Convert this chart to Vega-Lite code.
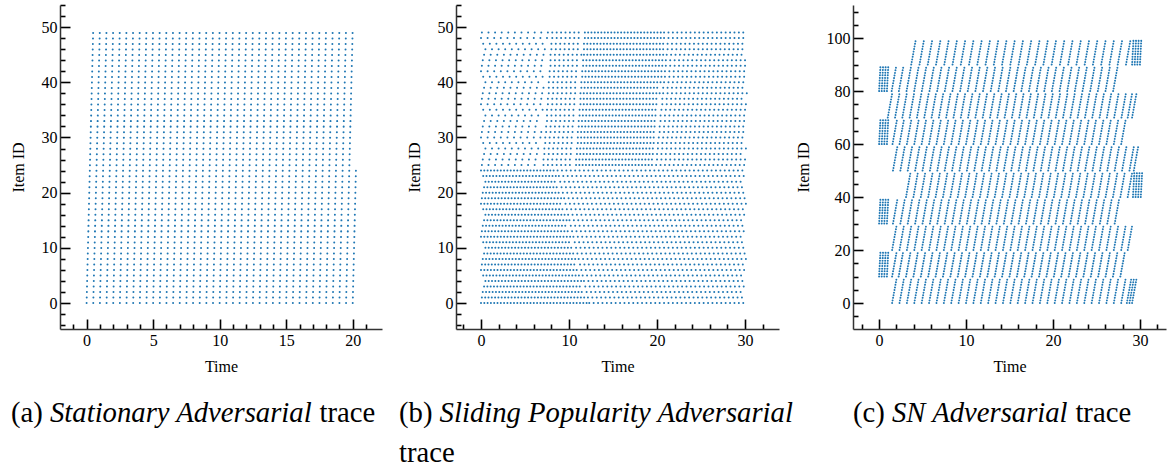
{
  "$schema": "https://vega.github.io/schema/vega-lite/v6.json",
  "padding": {"left": 10, "top": -3, "right": 2, "bottom": 2},
  "spacing": 74,
  "bounds": "flush",
  "config": {
    "view": {"stroke": null},
    "axis": {
      "grid": false,
      "labelFont": "Liberation Serif", "labelFontSize": 16, "labelColor": "#000",
      "titleFont": "Liberation Serif", "titleFontSize": 16, "titleFontWeight": "normal", "titleColor": "#000",
      "domainColor": "#333", "domainWidth": 1.5,
      "tickColor": "#000", "tickWidth": 1.6,
      "labelOverlap": false, "labelFlush": false, "labelBound": false,
      "labelPadding": 13
    },
    "axisX": {"titlePadding": 5},
    "axisY": {"titlePadding": 15},
    "text": {"font": "Liberation Serif", "fontSize": 28.7, "color": "#000", "align": "left", "baseline": "alphabetic"}
  },
  "hconcat": [
    {
      "width": 322, "height": 324,
      "layer": [
        {
          "data": {"values": [
            {"t0":0,"t1":0.49,"i0":0,"i1":49},{"t0":0.5,"t1":0.99,"i0":0,"i1":49},{"t0":1,"t1":1.49,"i0":0,"i1":49},{"t0":1.5,"t1":1.99,"i0":0,"i1":49},
            {"t0":2,"t1":2.49,"i0":0,"i1":49},{"t0":2.5,"t1":2.99,"i0":0,"i1":49},{"t0":3,"t1":3.49,"i0":0,"i1":49},{"t0":3.5,"t1":3.99,"i0":0,"i1":49},
            {"t0":4,"t1":4.49,"i0":0,"i1":49},{"t0":4.5,"t1":4.99,"i0":0,"i1":49},{"t0":5,"t1":5.49,"i0":0,"i1":49},{"t0":5.5,"t1":5.99,"i0":0,"i1":49},
            {"t0":6,"t1":6.49,"i0":0,"i1":49},{"t0":6.5,"t1":6.99,"i0":0,"i1":49},{"t0":7,"t1":7.49,"i0":0,"i1":49},{"t0":7.5,"t1":7.99,"i0":0,"i1":49},
            {"t0":8,"t1":8.49,"i0":0,"i1":49},{"t0":8.5,"t1":8.99,"i0":0,"i1":49},{"t0":9,"t1":9.49,"i0":0,"i1":49},{"t0":9.5,"t1":9.99,"i0":0,"i1":49},
            {"t0":10,"t1":10.49,"i0":0,"i1":49},{"t0":10.5,"t1":10.99,"i0":0,"i1":49},{"t0":11,"t1":11.49,"i0":0,"i1":49},{"t0":11.5,"t1":11.99,"i0":0,"i1":49},
            {"t0":12,"t1":12.49,"i0":0,"i1":49},{"t0":12.5,"t1":12.99,"i0":0,"i1":49},{"t0":13,"t1":13.49,"i0":0,"i1":49},{"t0":13.5,"t1":13.99,"i0":0,"i1":49},
            {"t0":14,"t1":14.49,"i0":0,"i1":49},{"t0":14.5,"t1":14.99,"i0":0,"i1":49},{"t0":15,"t1":15.49,"i0":0,"i1":49},{"t0":15.5,"t1":15.99,"i0":0,"i1":49},
            {"t0":16,"t1":16.49,"i0":0,"i1":49},{"t0":16.5,"t1":16.99,"i0":0,"i1":49},{"t0":17,"t1":17.49,"i0":0,"i1":49},{"t0":17.5,"t1":17.99,"i0":0,"i1":49},
            {"t0":18,"t1":18.49,"i0":0,"i1":49},{"t0":18.5,"t1":18.99,"i0":0,"i1":49},{"t0":19,"t1":19.49,"i0":0,"i1":49},{"t0":19.5,"t1":19.99,"i0":0,"i1":49},
            {"t0":20,"t1":20.24,"i0":0,"i1":24}
          ]},
          "mark": {"type": "rule", "color": "#1f77b4", "strokeWidth": 2, "strokeCap": "round", "strokeDash": [0.01, 5.505]},
          "encoding": {
            "x": {"field": "t0", "type": "quantitative", "scale": {"domain": [-2, 22.2], "nice": false, "zero": false},
                  "axis": {"title": "Time", "values": [-1,0,1,2,3,4,5,6,7,8,9,10,11,12,13,14,15,16,17,18,19,20,21],
                           "labelExpr": "datum.value % 5 === 0 ? datum.label : ''",
                           "tickSize": {"condition": {"test": "datum.value % 5 === 0", "value": -10}, "value": -5}}},
            "x2": {"field": "t1"},
            "y": {"field": "i0", "type": "quantitative", "scale": {"domain": [-4.7, 54], "nice": false, "zero": false},
                  "axis": {"title": "Item ID", "values": [-4,-2,0,2,4,6,8,10,12,14,16,18,20,22,24,26,28,30,32,34,36,38,40,42,44,46,48,50,52,54],
                           "labelExpr": "datum.value % 10 === 0 ? datum.label : ''",
                           "tickSize": {"condition": {"test": "datum.value % 10 === 0", "value": -10}, "value": -5}}},
            "y2": {"field": "i1"}
          }
        },
        {"data": {"values": [{}]}, "mark": {"type": "text", "text": "(a)"}, "encoding": {"x": {"value": -49}, "y": {"value": 417}}},
        {"data": {"values": [{}]}, "mark": {"type": "text", "text": "Stationary Adversarial", "fontStyle": "italic"}, "encoding": {"x": {"value": -10}, "y": {"value": 417}}},
        {"data": {"values": [{}]}, "mark": {"type": "text", "text": "trace"}, "encoding": {"x": {"value": 259.5}, "y": {"value": 417}}}
      ]
    },
    {
      "width": 323, "height": 324,
      "layer": [
        {
          "data": {"values": [
            {"i":0,"a":0.0,"b":12.0,"d":"dense"},{"i":0,"a":12.3,"b":30.0,"d":"medium"},
            {"i":1,"a":0.1,"b":11.85,"d":"dense"},{"i":1,"a":12.15,"b":30.1,"d":"medium"},
            {"i":2,"a":0.2,"b":11.7,"d":"dense"},{"i":2,"a":12.0,"b":29.9,"d":"medium"},
            {"i":3,"a":0.35,"b":11.55,"d":"dense"},{"i":3,"a":11.85,"b":30.2,"d":"medium"},
            {"i":4,"a":0.5,"b":11.4,"d":"dense"},{"i":4,"a":11.7,"b":30.05,"d":"medium"},
            {"i":5,"a":0.25,"b":11.25,"d":"dense"},{"i":5,"a":11.55,"b":30.0,"d":"medium"},
            {"i":6,"a":0.0,"b":11.1,"d":"dense"},{"i":6,"a":11.4,"b":30.1,"d":"medium"},
            {"i":7,"a":0.1,"b":10.95,"d":"dense"},{"i":7,"a":11.25,"b":29.9,"d":"medium"},
            {"i":8,"a":0.2,"b":10.8,"d":"dense"},{"i":8,"a":11.1,"b":30.2,"d":"medium"},
            {"i":9,"a":0.35,"b":10.65,"d":"dense"},{"i":9,"a":10.95,"b":30.05,"d":"medium"},
            {"i":10,"a":0.5,"b":10.5,"d":"dense"},{"i":10,"a":10.8,"b":30.0,"d":"medium"},
            {"i":11,"a":0.25,"b":10.35,"d":"dense"},{"i":11,"a":10.65,"b":30.1,"d":"medium"},
            {"i":12,"a":0.0,"b":10.2,"d":"dense"},{"i":12,"a":10.5,"b":29.9,"d":"medium"},
            {"i":13,"a":0.1,"b":10.05,"d":"dense"},{"i":13,"a":10.35,"b":30.2,"d":"medium"},
            {"i":14,"a":0.2,"b":9.9,"d":"dense"},{"i":14,"a":10.2,"b":30.05,"d":"medium"},
            {"i":15,"a":0.35,"b":9.75,"d":"dense"},{"i":15,"a":10.05,"b":30.0,"d":"medium"},
            {"i":16,"a":0.5,"b":9.6,"d":"dense"},{"i":16,"a":9.9,"b":30.1,"d":"medium"},
            {"i":17,"a":0.25,"b":9.45,"d":"dense"},{"i":17,"a":9.75,"b":29.9,"d":"medium"},
            {"i":18,"a":0.0,"b":9.3,"d":"dense"},{"i":18,"a":9.6,"b":30.2,"d":"medium"},
            {"i":19,"a":0.1,"b":9.15,"d":"dense"},{"i":19,"a":9.45,"b":30.05,"d":"medium"},
            {"i":20,"a":0.2,"b":9.0,"d":"dense"},{"i":20,"a":9.3,"b":30.0,"d":"medium"},
            {"i":21,"a":0.35,"b":8.85,"d":"dense"},{"i":21,"a":9.15,"b":30.1,"d":"medium"},
            {"i":22,"a":0.5,"b":8.7,"d":"dense"},{"i":22,"a":9.0,"b":29.9,"d":"medium"},
            {"i":23,"a":0.25,"b":8.55,"d":"dense"},{"i":23,"a":8.85,"b":30.2,"d":"medium"},
            {"i":24,"a":0.0,"b":8.4,"d":"dense"},{"i":24,"a":8.7,"b":30.05,"d":"medium"},
            {"i":25,"a":0.1,"b":6.6,"d":"sparse"},{"i":25,"a":7.1,"b":10.5,"d":"medium"},{"i":25,"a":10.8,"b":19.5,"d":"dense"},{"i":25,"a":19.9,"b":30.0,"d":"medium"},
            {"i":26,"a":0.2,"b":6.6,"d":"sparse"},{"i":26,"a":7.1,"b":10.5,"d":"medium"},{"i":26,"a":10.8,"b":19.6,"d":"dense"},{"i":26,"a":20.0,"b":30.1,"d":"medium"},
            {"i":27,"a":0.35,"b":6.7,"d":"sparse"},{"i":27,"a":7.2,"b":10.6,"d":"medium"},{"i":27,"a":10.9,"b":19.6,"d":"dense"},{"i":27,"a":20.0,"b":29.9,"d":"medium"},
            {"i":28,"a":0.5,"b":6.7,"d":"sparse"},{"i":28,"a":7.2,"b":10.6,"d":"medium"},{"i":28,"a":10.9,"b":19.7,"d":"dense"},{"i":28,"a":20.1,"b":30.2,"d":"medium"},
            {"i":29,"a":0.25,"b":6.8,"d":"sparse"},{"i":29,"a":7.3,"b":10.7,"d":"medium"},{"i":29,"a":11.0,"b":19.7,"d":"dense"},{"i":29,"a":20.1,"b":30.05,"d":"medium"},
            {"i":30,"a":0.0,"b":6.8,"d":"sparse"},{"i":30,"a":7.3,"b":10.7,"d":"medium"},{"i":30,"a":11.0,"b":19.8,"d":"dense"},{"i":30,"a":20.2,"b":30.0,"d":"medium"},
            {"i":31,"a":0.1,"b":6.9,"d":"sparse"},{"i":31,"a":7.4,"b":10.7,"d":"medium"},{"i":31,"a":11.0,"b":19.9,"d":"dense"},{"i":31,"a":20.3,"b":30.1,"d":"medium"},
            {"i":32,"a":0.2,"b":6.9,"d":"sparse"},{"i":32,"a":7.4,"b":10.8,"d":"medium"},{"i":32,"a":11.1,"b":19.9,"d":"dense"},{"i":32,"a":20.3,"b":29.9,"d":"medium"},
            {"i":33,"a":0.35,"b":7.0,"d":"sparse"},{"i":33,"a":7.5,"b":10.8,"d":"medium"},{"i":33,"a":11.1,"b":20.0,"d":"dense"},{"i":33,"a":20.4,"b":30.2,"d":"medium"},
            {"i":34,"a":0.5,"b":7.0,"d":"sparse"},{"i":34,"a":7.5,"b":10.9,"d":"medium"},{"i":34,"a":11.2,"b":20.0,"d":"dense"},{"i":34,"a":20.4,"b":30.05,"d":"medium"},
            {"i":35,"a":0.25,"b":7.0,"d":"sparse"},{"i":35,"a":7.5,"b":10.9,"d":"medium"},{"i":35,"a":11.2,"b":20.1,"d":"dense"},{"i":35,"a":20.5,"b":30.0,"d":"medium"},
            {"i":36,"a":0.0,"b":7.1,"d":"sparse"},{"i":36,"a":7.6,"b":11.0,"d":"medium"},{"i":36,"a":11.3,"b":20.2,"d":"dense"},{"i":36,"a":20.6,"b":30.1,"d":"medium"},
            {"i":37,"a":0.1,"b":7.1,"d":"sparse"},{"i":37,"a":7.6,"b":11.0,"d":"medium"},{"i":37,"a":11.3,"b":20.2,"d":"dense"},{"i":37,"a":20.6,"b":29.9,"d":"medium"},
            {"i":38,"a":0.2,"b":7.2,"d":"sparse"},{"i":38,"a":7.7,"b":11.0,"d":"medium"},{"i":38,"a":11.3,"b":20.3,"d":"dense"},{"i":38,"a":20.7,"b":30.2,"d":"medium"},
            {"i":39,"a":0.35,"b":7.2,"d":"sparse"},{"i":39,"a":7.7,"b":11.1,"d":"medium"},{"i":39,"a":11.4,"b":20.3,"d":"dense"},{"i":39,"a":20.7,"b":30.05,"d":"medium"},
            {"i":40,"a":0.5,"b":7.2,"d":"sparse"},{"i":40,"a":7.7,"b":11.1,"d":"medium"},{"i":40,"a":11.4,"b":20.4,"d":"dense"},{"i":40,"a":20.8,"b":30.0,"d":"medium"},
            {"i":41,"a":0.25,"b":7.3,"d":"sparse"},{"i":41,"a":7.8,"b":11.2,"d":"medium"},{"i":41,"a":11.5,"b":20.5,"d":"dense"},{"i":41,"a":20.9,"b":30.1,"d":"medium"},
            {"i":42,"a":0.0,"b":7.3,"d":"sparse"},{"i":42,"a":7.8,"b":11.2,"d":"medium"},{"i":42,"a":11.5,"b":20.5,"d":"dense"},{"i":42,"a":20.9,"b":29.9,"d":"medium"},
            {"i":43,"a":0.1,"b":7.4,"d":"sparse"},{"i":43,"a":7.9,"b":11.3,"d":"medium"},{"i":43,"a":11.6,"b":20.6,"d":"dense"},{"i":43,"a":21.0,"b":30.2,"d":"medium"},
            {"i":44,"a":0.2,"b":7.4,"d":"sparse"},{"i":44,"a":7.9,"b":11.3,"d":"medium"},{"i":44,"a":11.6,"b":20.6,"d":"dense"},{"i":44,"a":21.0,"b":30.05,"d":"medium"},
            {"i":45,"a":0.35,"b":7.4,"d":"sparse"},{"i":45,"a":7.9,"b":11.4,"d":"medium"},{"i":45,"a":11.7,"b":20.7,"d":"dense"},{"i":45,"a":21.1,"b":30.0,"d":"medium"},
            {"i":46,"a":0.5,"b":7.5,"d":"sparse"},{"i":46,"a":8.0,"b":11.4,"d":"medium"},{"i":46,"a":11.7,"b":20.8,"d":"dense"},{"i":46,"a":21.2,"b":30.1,"d":"medium"},
            {"i":47,"a":0.25,"b":7.5,"d":"sparse"},{"i":47,"a":8.0,"b":11.4,"d":"medium"},{"i":47,"a":11.7,"b":20.8,"d":"dense"},{"i":47,"a":21.2,"b":29.9,"d":"medium"},
            {"i":48,"a":0.0,"b":7.6,"d":"sparse"},{"i":48,"a":8.1,"b":11.5,"d":"medium"},{"i":48,"a":11.8,"b":20.9,"d":"dense"},{"i":48,"a":21.3,"b":30.2,"d":"medium"},
            {"i":49,"a":0.1,"b":7.6,"d":"sparse"},{"i":49,"a":8.1,"b":11.5,"d":"medium"},{"i":49,"a":11.8,"b":20.9,"d":"dense"},{"i":49,"a":21.3,"b":30.05,"d":"medium"}
          ]},
          "mark": {"type": "rule", "color": "#1f77b4", "strokeWidth": 2, "strokeCap": "round"},
          "encoding": {
            "x": {"field": "a", "type": "quantitative", "scale": {"domain": [-2.84, 33.86], "nice": false, "zero": false},
                  "axis": {"title": "Time", "values": [-2,0,2,4,6,8,10,12,14,16,18,20,22,24,26,28,30,32],
                           "labelExpr": "datum.value % 10 === 0 ? datum.label : ''",
                           "tickSize": {"condition": {"test": "datum.value % 10 === 0", "value": -10}, "value": -5}}},
            "x2": {"field": "b"},
            "y": {"field": "i", "type": "quantitative", "scale": {"domain": [-4.7, 54], "nice": false, "zero": false},
                  "axis": {"title": "Item ID", "values": [-4,-2,0,2,4,6,8,10,12,14,16,18,20,22,24,26,28,30,32,34,36,38,40,42,44,46,48,50,52,54],
                           "labelExpr": "datum.value % 10 === 0 ? datum.label : ''",
                           "tickSize": {"condition": {"test": "datum.value % 10 === 0", "value": -10}, "value": -5}}},
            "strokeDash": {"field": "d", "type": "nominal", "legend": null,
                           "scale": {"domain": ["dense", "medium", "sparse"], "range": [[0.01, 3.29], [0.01, 4.39], [0.01, 6.59]]}}
          }
        },
        {"data": {"values": [{}]}, "mark": {"type": "text", "text": "(b)"}, "encoding": {"x": {"value": -57}, "y": {"value": 417}}},
        {"data": {"values": [{}]}, "mark": {"type": "text", "text": "Sliding Popularity Adversarial", "fontStyle": "italic"}, "encoding": {"x": {"value": -16.4}, "y": {"value": 417}}},
        {"data": {"values": [{}]}, "mark": {"type": "text", "text": "trace"}, "encoding": {"x": {"value": -57}, "y": {"value": 457}}}
      ]
    },
    {
      "width": 313, "height": 324,
      "layer": [
        {
          "data": {"values": [
            {"b":90,"e":99,"t0":3.7,"t1":4.2},{"b":90,"e":99,"t0":4.65,"t1":5.15},{"b":90,"e":99,"t0":5.6,"t1":6.1},{"b":90,"e":99,"t0":6.55,"t1":7.05},{"b":90,"e":99,"t0":7.5,"t1":8.0},{"b":90,"e":99,"t0":8.45,"t1":8.95},{"b":90,"e":99,"t0":9.4,"t1":9.9},{"b":90,"e":99,"t0":10.35,"t1":10.85},{"b":90,"e":99,"t0":11.3,"t1":11.8},{"b":90,"e":99,"t0":12.25,"t1":12.75},{"b":90,"e":99,"t0":13.2,"t1":13.7},{"b":90,"e":99,"t0":14.15,"t1":14.65},{"b":90,"e":99,"t0":15.1,"t1":15.6},{"b":90,"e":99,"t0":16.05,"t1":16.55},{"b":90,"e":99,"t0":17.0,"t1":17.5},{"b":90,"e":99,"t0":17.95,"t1":18.45},{"b":90,"e":99,"t0":18.9,"t1":19.4},{"b":90,"e":99,"t0":19.85,"t1":20.35},{"b":90,"e":99,"t0":20.8,"t1":21.3},{"b":90,"e":99,"t0":21.75,"t1":22.25},{"b":90,"e":99,"t0":22.7,"t1":23.2},{"b":90,"e":99,"t0":23.65,"t1":24.15},{"b":90,"e":99,"t0":24.6,"t1":25.1},{"b":90,"e":99,"t0":25.55,"t1":26.05},{"b":90,"e":99,"t0":26.5,"t1":27.0},{"b":90,"e":99,"t0":27.45,"t1":27.95},{"b":90,"e":99,"t0":28.4,"t1":28.9},
            {"b":90,"e":99,"t0":29.1,"t1":29.25},{"b":90,"e":99,"t0":29.4,"t1":29.55},{"b":90,"e":99,"t0":29.7,"t1":29.85},{"b":90,"e":99,"t0":30.0,"t1":30.15},
            {"b":80,"e":89,"t0":0.0,"t1":0.15},{"b":80,"e":89,"t0":0.3,"t1":0.45},{"b":80,"e":89,"t0":0.6,"t1":0.75},{"b":80,"e":89,"t0":0.9,"t1":1.05},
            {"b":80,"e":89,"t0":1.45,"t1":1.95},{"b":80,"e":89,"t0":2.28,"t1":2.78},{"b":80,"e":89,"t0":3.16,"t1":3.66},{"b":80,"e":89,"t0":4.04,"t1":4.54},{"b":80,"e":89,"t0":4.92,"t1":5.42},{"b":80,"e":89,"t0":5.8,"t1":6.3},{"b":80,"e":89,"t0":6.68,"t1":7.18},{"b":80,"e":89,"t0":7.56,"t1":8.06},{"b":80,"e":89,"t0":8.44,"t1":8.94},{"b":80,"e":89,"t0":9.32,"t1":9.82},{"b":80,"e":89,"t0":10.2,"t1":10.7},{"b":80,"e":89,"t0":11.08,"t1":11.58},{"b":80,"e":89,"t0":11.96,"t1":12.46},{"b":80,"e":89,"t0":12.84,"t1":13.34},{"b":80,"e":89,"t0":13.72,"t1":14.22},{"b":80,"e":89,"t0":14.6,"t1":15.1},{"b":80,"e":89,"t0":15.48,"t1":15.98},{"b":80,"e":89,"t0":16.36,"t1":16.86},{"b":80,"e":89,"t0":17.24,"t1":17.74},{"b":80,"e":89,"t0":18.12,"t1":18.62},{"b":80,"e":89,"t0":19.0,"t1":19.5},{"b":80,"e":89,"t0":19.88,"t1":20.38},{"b":80,"e":89,"t0":20.76,"t1":21.26},{"b":80,"e":89,"t0":21.64,"t1":22.14},{"b":80,"e":89,"t0":22.52,"t1":23.02},{"b":80,"e":89,"t0":23.4,"t1":23.9},{"b":80,"e":89,"t0":24.28,"t1":24.78},{"b":80,"e":89,"t0":25.16,"t1":25.66},{"b":80,"e":89,"t0":26.04,"t1":26.54},{"b":80,"e":89,"t0":26.92,"t1":27.42},
            {"b":70,"e":79,"t0":1.0,"t1":1.5},{"b":70,"e":79,"t0":1.84,"t1":2.34},{"b":70,"e":79,"t0":2.68,"t1":3.18},{"b":70,"e":79,"t0":3.52,"t1":4.02},{"b":70,"e":79,"t0":4.36,"t1":4.86},{"b":70,"e":79,"t0":5.2,"t1":5.7},{"b":70,"e":79,"t0":6.04,"t1":6.54},{"b":70,"e":79,"t0":6.88,"t1":7.38},{"b":70,"e":79,"t0":7.72,"t1":8.22},{"b":70,"e":79,"t0":8.56,"t1":9.06},{"b":70,"e":79,"t0":9.4,"t1":9.9},{"b":70,"e":79,"t0":10.24,"t1":10.74},{"b":70,"e":79,"t0":11.08,"t1":11.58},{"b":70,"e":79,"t0":11.92,"t1":12.42},{"b":70,"e":79,"t0":12.76,"t1":13.26},{"b":70,"e":79,"t0":13.6,"t1":14.1},{"b":70,"e":79,"t0":14.44,"t1":14.94},{"b":70,"e":79,"t0":15.28,"t1":15.78},{"b":70,"e":79,"t0":16.12,"t1":16.62},{"b":70,"e":79,"t0":16.96,"t1":17.46},{"b":70,"e":79,"t0":17.8,"t1":18.3},{"b":70,"e":79,"t0":18.64,"t1":19.14},{"b":70,"e":79,"t0":19.48,"t1":19.98},{"b":70,"e":79,"t0":20.32,"t1":20.82},{"b":70,"e":79,"t0":21.16,"t1":21.66},{"b":70,"e":79,"t0":22.0,"t1":22.5},{"b":70,"e":79,"t0":22.84,"t1":23.34},{"b":70,"e":79,"t0":23.68,"t1":24.18},{"b":70,"e":79,"t0":24.52,"t1":25.02},{"b":70,"e":79,"t0":25.36,"t1":25.86},{"b":70,"e":79,"t0":26.2,"t1":26.7},{"b":70,"e":79,"t0":27.04,"t1":27.54},{"b":70,"e":79,"t0":27.88,"t1":28.38},{"b":70,"e":79,"t0":28.6,"t1":29.1},{"b":70,"e":79,"t0":29.1,"t1":29.6},
            {"b":60,"e":69,"t0":0.0,"t1":0.15},{"b":60,"e":69,"t0":0.3,"t1":0.45},{"b":60,"e":69,"t0":0.6,"t1":0.75},{"b":60,"e":69,"t0":0.9,"t1":1.05},
            {"b":60,"e":69,"t0":1.55,"t1":2.05},{"b":60,"e":69,"t0":2.35,"t1":2.85},{"b":60,"e":69,"t0":3.2,"t1":3.7},{"b":60,"e":69,"t0":4.05,"t1":4.55},{"b":60,"e":69,"t0":4.9,"t1":5.4},{"b":60,"e":69,"t0":5.75,"t1":6.25},{"b":60,"e":69,"t0":6.6,"t1":7.1},{"b":60,"e":69,"t0":7.45,"t1":7.95},{"b":60,"e":69,"t0":8.3,"t1":8.8},{"b":60,"e":69,"t0":9.15,"t1":9.65},{"b":60,"e":69,"t0":10.0,"t1":10.5},{"b":60,"e":69,"t0":10.85,"t1":11.35},{"b":60,"e":69,"t0":11.7,"t1":12.2},{"b":60,"e":69,"t0":12.55,"t1":13.05},{"b":60,"e":69,"t0":13.4,"t1":13.9},{"b":60,"e":69,"t0":14.25,"t1":14.75},{"b":60,"e":69,"t0":15.1,"t1":15.6},{"b":60,"e":69,"t0":15.95,"t1":16.45},{"b":60,"e":69,"t0":16.8,"t1":17.3},{"b":60,"e":69,"t0":17.65,"t1":18.15},{"b":60,"e":69,"t0":18.5,"t1":19.0},{"b":60,"e":69,"t0":19.35,"t1":19.85},{"b":60,"e":69,"t0":20.2,"t1":20.7},{"b":60,"e":69,"t0":21.05,"t1":21.55},{"b":60,"e":69,"t0":21.9,"t1":22.4},{"b":60,"e":69,"t0":22.75,"t1":23.25},{"b":60,"e":69,"t0":23.6,"t1":24.1},{"b":60,"e":69,"t0":24.45,"t1":24.95},{"b":60,"e":69,"t0":25.3,"t1":25.8},{"b":60,"e":69,"t0":26.15,"t1":26.65},{"b":60,"e":69,"t0":27.0,"t1":27.5},{"b":60,"e":69,"t0":27.85,"t1":28.35},
            {"b":50,"e":59,"t0":1.6,"t1":2.1},{"b":50,"e":59,"t0":2.45,"t1":2.95},{"b":50,"e":59,"t0":3.3,"t1":3.8},{"b":50,"e":59,"t0":4.15,"t1":4.65},{"b":50,"e":59,"t0":5.0,"t1":5.5},{"b":50,"e":59,"t0":5.85,"t1":6.35},{"b":50,"e":59,"t0":6.7,"t1":7.2},{"b":50,"e":59,"t0":7.55,"t1":8.05},{"b":50,"e":59,"t0":8.4,"t1":8.9},{"b":50,"e":59,"t0":9.25,"t1":9.75},{"b":50,"e":59,"t0":10.1,"t1":10.6},{"b":50,"e":59,"t0":10.95,"t1":11.45},{"b":50,"e":59,"t0":11.8,"t1":12.3},{"b":50,"e":59,"t0":12.65,"t1":13.15},{"b":50,"e":59,"t0":13.5,"t1":14.0},{"b":50,"e":59,"t0":14.35,"t1":14.85},{"b":50,"e":59,"t0":15.2,"t1":15.7},{"b":50,"e":59,"t0":16.05,"t1":16.55},{"b":50,"e":59,"t0":16.9,"t1":17.4},{"b":50,"e":59,"t0":17.75,"t1":18.25},{"b":50,"e":59,"t0":18.6,"t1":19.1},{"b":50,"e":59,"t0":19.45,"t1":19.95},{"b":50,"e":59,"t0":20.3,"t1":20.8},{"b":50,"e":59,"t0":21.15,"t1":21.65},{"b":50,"e":59,"t0":22.0,"t1":22.5},{"b":50,"e":59,"t0":22.85,"t1":23.35},{"b":50,"e":59,"t0":23.7,"t1":24.2},{"b":50,"e":59,"t0":24.55,"t1":25.05},{"b":50,"e":59,"t0":25.4,"t1":25.9},{"b":50,"e":59,"t0":26.25,"t1":26.75},{"b":50,"e":59,"t0":27.1,"t1":27.6},{"b":50,"e":59,"t0":27.95,"t1":28.45},{"b":50,"e":59,"t0":28.8,"t1":29.3},{"b":50,"e":59,"t0":29.3,"t1":29.8},
            {"b":40,"e":49,"t0":3.1,"t1":3.6},{"b":40,"e":49,"t0":3.95,"t1":4.45},{"b":40,"e":49,"t0":4.8,"t1":5.3},{"b":40,"e":49,"t0":5.65,"t1":6.15},{"b":40,"e":49,"t0":6.5,"t1":7.0},{"b":40,"e":49,"t0":7.35,"t1":7.85},{"b":40,"e":49,"t0":8.2,"t1":8.7},{"b":40,"e":49,"t0":9.05,"t1":9.55},{"b":40,"e":49,"t0":9.9,"t1":10.4},{"b":40,"e":49,"t0":10.75,"t1":11.25},{"b":40,"e":49,"t0":11.6,"t1":12.1},{"b":40,"e":49,"t0":12.45,"t1":12.95},{"b":40,"e":49,"t0":13.3,"t1":13.8},{"b":40,"e":49,"t0":14.15,"t1":14.65},{"b":40,"e":49,"t0":15.0,"t1":15.5},{"b":40,"e":49,"t0":15.85,"t1":16.35},{"b":40,"e":49,"t0":16.7,"t1":17.2},{"b":40,"e":49,"t0":17.55,"t1":18.05},{"b":40,"e":49,"t0":18.4,"t1":18.9},{"b":40,"e":49,"t0":19.25,"t1":19.75},{"b":40,"e":49,"t0":20.1,"t1":20.6},{"b":40,"e":49,"t0":20.95,"t1":21.45},{"b":40,"e":49,"t0":21.8,"t1":22.3},{"b":40,"e":49,"t0":22.65,"t1":23.15},{"b":40,"e":49,"t0":23.5,"t1":24.0},{"b":40,"e":49,"t0":24.35,"t1":24.85},{"b":40,"e":49,"t0":25.2,"t1":25.7},{"b":40,"e":49,"t0":26.05,"t1":26.55},{"b":40,"e":49,"t0":26.9,"t1":27.4},{"b":40,"e":49,"t0":27.75,"t1":28.25},{"b":40,"e":49,"t0":28.6,"t1":29.1},
            {"b":40,"e":49,"t0":29.2,"t1":29.35},{"b":40,"e":49,"t0":29.5,"t1":29.65},{"b":40,"e":49,"t0":29.8,"t1":29.95},{"b":40,"e":49,"t0":30.1,"t1":30.25},
            {"b":30,"e":39,"t0":0.0,"t1":0.15},{"b":30,"e":39,"t0":0.3,"t1":0.45},{"b":30,"e":39,"t0":0.6,"t1":0.75},{"b":30,"e":39,"t0":0.9,"t1":1.05},
            {"b":30,"e":39,"t0":1.6,"t1":2.1},{"b":30,"e":39,"t0":2.45,"t1":2.95},{"b":30,"e":39,"t0":3.3,"t1":3.8},{"b":30,"e":39,"t0":4.15,"t1":4.65},{"b":30,"e":39,"t0":5.0,"t1":5.5},{"b":30,"e":39,"t0":5.85,"t1":6.35},{"b":30,"e":39,"t0":6.7,"t1":7.2},{"b":30,"e":39,"t0":7.55,"t1":8.05},{"b":30,"e":39,"t0":8.4,"t1":8.9},{"b":30,"e":39,"t0":9.25,"t1":9.75},{"b":30,"e":39,"t0":10.1,"t1":10.6},{"b":30,"e":39,"t0":10.95,"t1":11.45},{"b":30,"e":39,"t0":11.8,"t1":12.3},{"b":30,"e":39,"t0":12.65,"t1":13.15},{"b":30,"e":39,"t0":13.5,"t1":14.0},{"b":30,"e":39,"t0":14.35,"t1":14.85},{"b":30,"e":39,"t0":15.2,"t1":15.7},{"b":30,"e":39,"t0":16.05,"t1":16.55},{"b":30,"e":39,"t0":16.9,"t1":17.4},{"b":30,"e":39,"t0":17.75,"t1":18.25},{"b":30,"e":39,"t0":18.6,"t1":19.1},{"b":30,"e":39,"t0":19.45,"t1":19.95},{"b":30,"e":39,"t0":20.3,"t1":20.8},{"b":30,"e":39,"t0":21.15,"t1":21.65},{"b":30,"e":39,"t0":22.0,"t1":22.5},{"b":30,"e":39,"t0":22.85,"t1":23.35},{"b":30,"e":39,"t0":23.7,"t1":24.2},{"b":30,"e":39,"t0":24.55,"t1":25.05},{"b":30,"e":39,"t0":25.4,"t1":25.9},{"b":30,"e":39,"t0":26.25,"t1":26.75},{"b":30,"e":39,"t0":27.1,"t1":27.6},
            {"b":20,"e":29,"t0":1.5,"t1":2.0},{"b":20,"e":29,"t0":2.35,"t1":2.85},{"b":20,"e":29,"t0":3.2,"t1":3.7},{"b":20,"e":29,"t0":4.05,"t1":4.55},{"b":20,"e":29,"t0":4.9,"t1":5.4},{"b":20,"e":29,"t0":5.75,"t1":6.25},{"b":20,"e":29,"t0":6.6,"t1":7.1},{"b":20,"e":29,"t0":7.45,"t1":7.95},{"b":20,"e":29,"t0":8.3,"t1":8.8},{"b":20,"e":29,"t0":9.15,"t1":9.65},{"b":20,"e":29,"t0":10.0,"t1":10.5},{"b":20,"e":29,"t0":10.85,"t1":11.35},{"b":20,"e":29,"t0":11.7,"t1":12.2},{"b":20,"e":29,"t0":12.55,"t1":13.05},{"b":20,"e":29,"t0":13.4,"t1":13.9},{"b":20,"e":29,"t0":14.25,"t1":14.75},{"b":20,"e":29,"t0":15.1,"t1":15.6},{"b":20,"e":29,"t0":15.95,"t1":16.45},{"b":20,"e":29,"t0":16.8,"t1":17.3},{"b":20,"e":29,"t0":17.65,"t1":18.15},{"b":20,"e":29,"t0":18.5,"t1":19.0},{"b":20,"e":29,"t0":19.35,"t1":19.85},{"b":20,"e":29,"t0":20.2,"t1":20.7},{"b":20,"e":29,"t0":21.05,"t1":21.55},{"b":20,"e":29,"t0":21.9,"t1":22.4},{"b":20,"e":29,"t0":22.75,"t1":23.25},{"b":20,"e":29,"t0":23.6,"t1":24.1},{"b":20,"e":29,"t0":24.45,"t1":24.95},{"b":20,"e":29,"t0":25.3,"t1":25.8},{"b":20,"e":29,"t0":26.15,"t1":26.65},{"b":20,"e":29,"t0":27.0,"t1":27.5},{"b":20,"e":29,"t0":27.85,"t1":28.35},{"b":20,"e":29,"t0":28.6,"t1":29.1},
            {"b":10,"e":19,"t0":0.0,"t1":0.15},{"b":10,"e":19,"t0":0.3,"t1":0.45},{"b":10,"e":19,"t0":0.6,"t1":0.75},{"b":10,"e":19,"t0":0.9,"t1":1.05},
            {"b":10,"e":19,"t0":1.5,"t1":2.0},{"b":10,"e":19,"t0":2.25,"t1":2.75},{"b":10,"e":19,"t0":3.1,"t1":3.6},{"b":10,"e":19,"t0":3.95,"t1":4.45},{"b":10,"e":19,"t0":4.8,"t1":5.3},{"b":10,"e":19,"t0":5.65,"t1":6.15},{"b":10,"e":19,"t0":6.5,"t1":7.0},{"b":10,"e":19,"t0":7.35,"t1":7.85},{"b":10,"e":19,"t0":8.2,"t1":8.7},{"b":10,"e":19,"t0":9.05,"t1":9.55},{"b":10,"e":19,"t0":9.9,"t1":10.4},{"b":10,"e":19,"t0":10.75,"t1":11.25},{"b":10,"e":19,"t0":11.6,"t1":12.1},{"b":10,"e":19,"t0":12.45,"t1":12.95},{"b":10,"e":19,"t0":13.3,"t1":13.8},{"b":10,"e":19,"t0":14.15,"t1":14.65},{"b":10,"e":19,"t0":15.0,"t1":15.5},{"b":10,"e":19,"t0":15.85,"t1":16.35},{"b":10,"e":19,"t0":16.7,"t1":17.2},{"b":10,"e":19,"t0":17.55,"t1":18.05},{"b":10,"e":19,"t0":18.4,"t1":18.9},{"b":10,"e":19,"t0":19.25,"t1":19.75},{"b":10,"e":19,"t0":20.1,"t1":20.6},{"b":10,"e":19,"t0":20.95,"t1":21.45},{"b":10,"e":19,"t0":21.8,"t1":22.3},{"b":10,"e":19,"t0":22.65,"t1":23.15},{"b":10,"e":19,"t0":23.5,"t1":24.0},{"b":10,"e":19,"t0":24.35,"t1":24.85},{"b":10,"e":19,"t0":25.2,"t1":25.7},{"b":10,"e":19,"t0":26.05,"t1":26.55},{"b":10,"e":19,"t0":26.9,"t1":27.4},{"b":10,"e":19,"t0":27.75,"t1":28.25},
            {"b":0,"e":9,"t0":1.5,"t1":2.0},{"b":0,"e":9,"t0":2.35,"t1":2.85},{"b":0,"e":9,"t0":3.2,"t1":3.7},{"b":0,"e":9,"t0":4.05,"t1":4.55},{"b":0,"e":9,"t0":4.9,"t1":5.4},{"b":0,"e":9,"t0":5.75,"t1":6.25},{"b":0,"e":9,"t0":6.6,"t1":7.1},{"b":0,"e":9,"t0":7.45,"t1":7.95},{"b":0,"e":9,"t0":8.3,"t1":8.8},{"b":0,"e":9,"t0":9.15,"t1":9.65},{"b":0,"e":9,"t0":10.0,"t1":10.5},{"b":0,"e":9,"t0":10.85,"t1":11.35},{"b":0,"e":9,"t0":11.7,"t1":12.2},{"b":0,"e":9,"t0":12.55,"t1":13.05},{"b":0,"e":9,"t0":13.4,"t1":13.9},{"b":0,"e":9,"t0":14.25,"t1":14.75},{"b":0,"e":9,"t0":15.1,"t1":15.6},{"b":0,"e":9,"t0":15.95,"t1":16.45},{"b":0,"e":9,"t0":16.8,"t1":17.3},{"b":0,"e":9,"t0":17.65,"t1":18.15},{"b":0,"e":9,"t0":18.5,"t1":19.0},{"b":0,"e":9,"t0":19.35,"t1":19.85},{"b":0,"e":9,"t0":20.2,"t1":20.7},{"b":0,"e":9,"t0":21.05,"t1":21.55},{"b":0,"e":9,"t0":21.9,"t1":22.4},{"b":0,"e":9,"t0":22.75,"t1":23.25},{"b":0,"e":9,"t0":23.6,"t1":24.1},{"b":0,"e":9,"t0":24.45,"t1":24.95},{"b":0,"e":9,"t0":25.3,"t1":25.8},{"b":0,"e":9,"t0":26.15,"t1":26.65},{"b":0,"e":9,"t0":27.0,"t1":27.5},{"b":0,"e":9,"t0":27.85,"t1":28.35},{"b":0,"e":9,"t0":28.5,"t1":29.0},{"b":0,"e":9,"t0":28.8,"t1":29.3},{"b":0,"e":9,"t0":29.1,"t1":29.6}
          ]},
          "mark": {"type": "rule", "color": "#1f77b4", "strokeWidth": 2, "strokeCap": "round", "strokeDash": [0.01, 2.63]},
          "encoding": {
            "x": {"field": "t0", "type": "quantitative", "scale": {"domain": [-3, 33], "nice": false, "zero": false},
                  "axis": {"title": "Time", "values": [-2,0,2,4,6,8,10,12,14,16,18,20,22,24,26,28,30,32],
                           "labelExpr": "datum.value % 10 === 0 ? datum.label : ''",
                           "tickSize": {"condition": {"test": "datum.value % 10 === 0", "value": -10}, "value": -5}}},
            "x2": {"field": "t1"},
            "y": {"field": "b", "type": "quantitative", "scale": {"domain": [-9.8, 112.5], "nice": false, "zero": false},
                  "axis": {"title": "Item ID", "values": [-5,0,5,10,15,20,25,30,35,40,45,50,55,60,65,70,75,80,85,90,95,100,105,110],
                           "labelExpr": "datum.value % 20 === 0 ? datum.label : ''",
                           "tickSize": {"condition": {"test": "datum.value % 20 === 0", "value": -10}, "value": -5}}},
            "y2": {"field": "e"}
          }
        },
        {"data": {"values": [{}]}, "mark": {"type": "text", "text": "(c)"}, "encoding": {"x": {"value": 0}, "y": {"value": 417}}},
        {"data": {"values": [{}]}, "mark": {"type": "text", "text": "SN Adversarial", "fontStyle": "italic"}, "encoding": {"x": {"value": 39}, "y": {"value": 417}}},
        {"data": {"values": [{}]}, "mark": {"type": "text", "text": "trace"}, "encoding": {"x": {"value": 222.4}, "y": {"value": 417}}}
      ]
    }
  ]
}
